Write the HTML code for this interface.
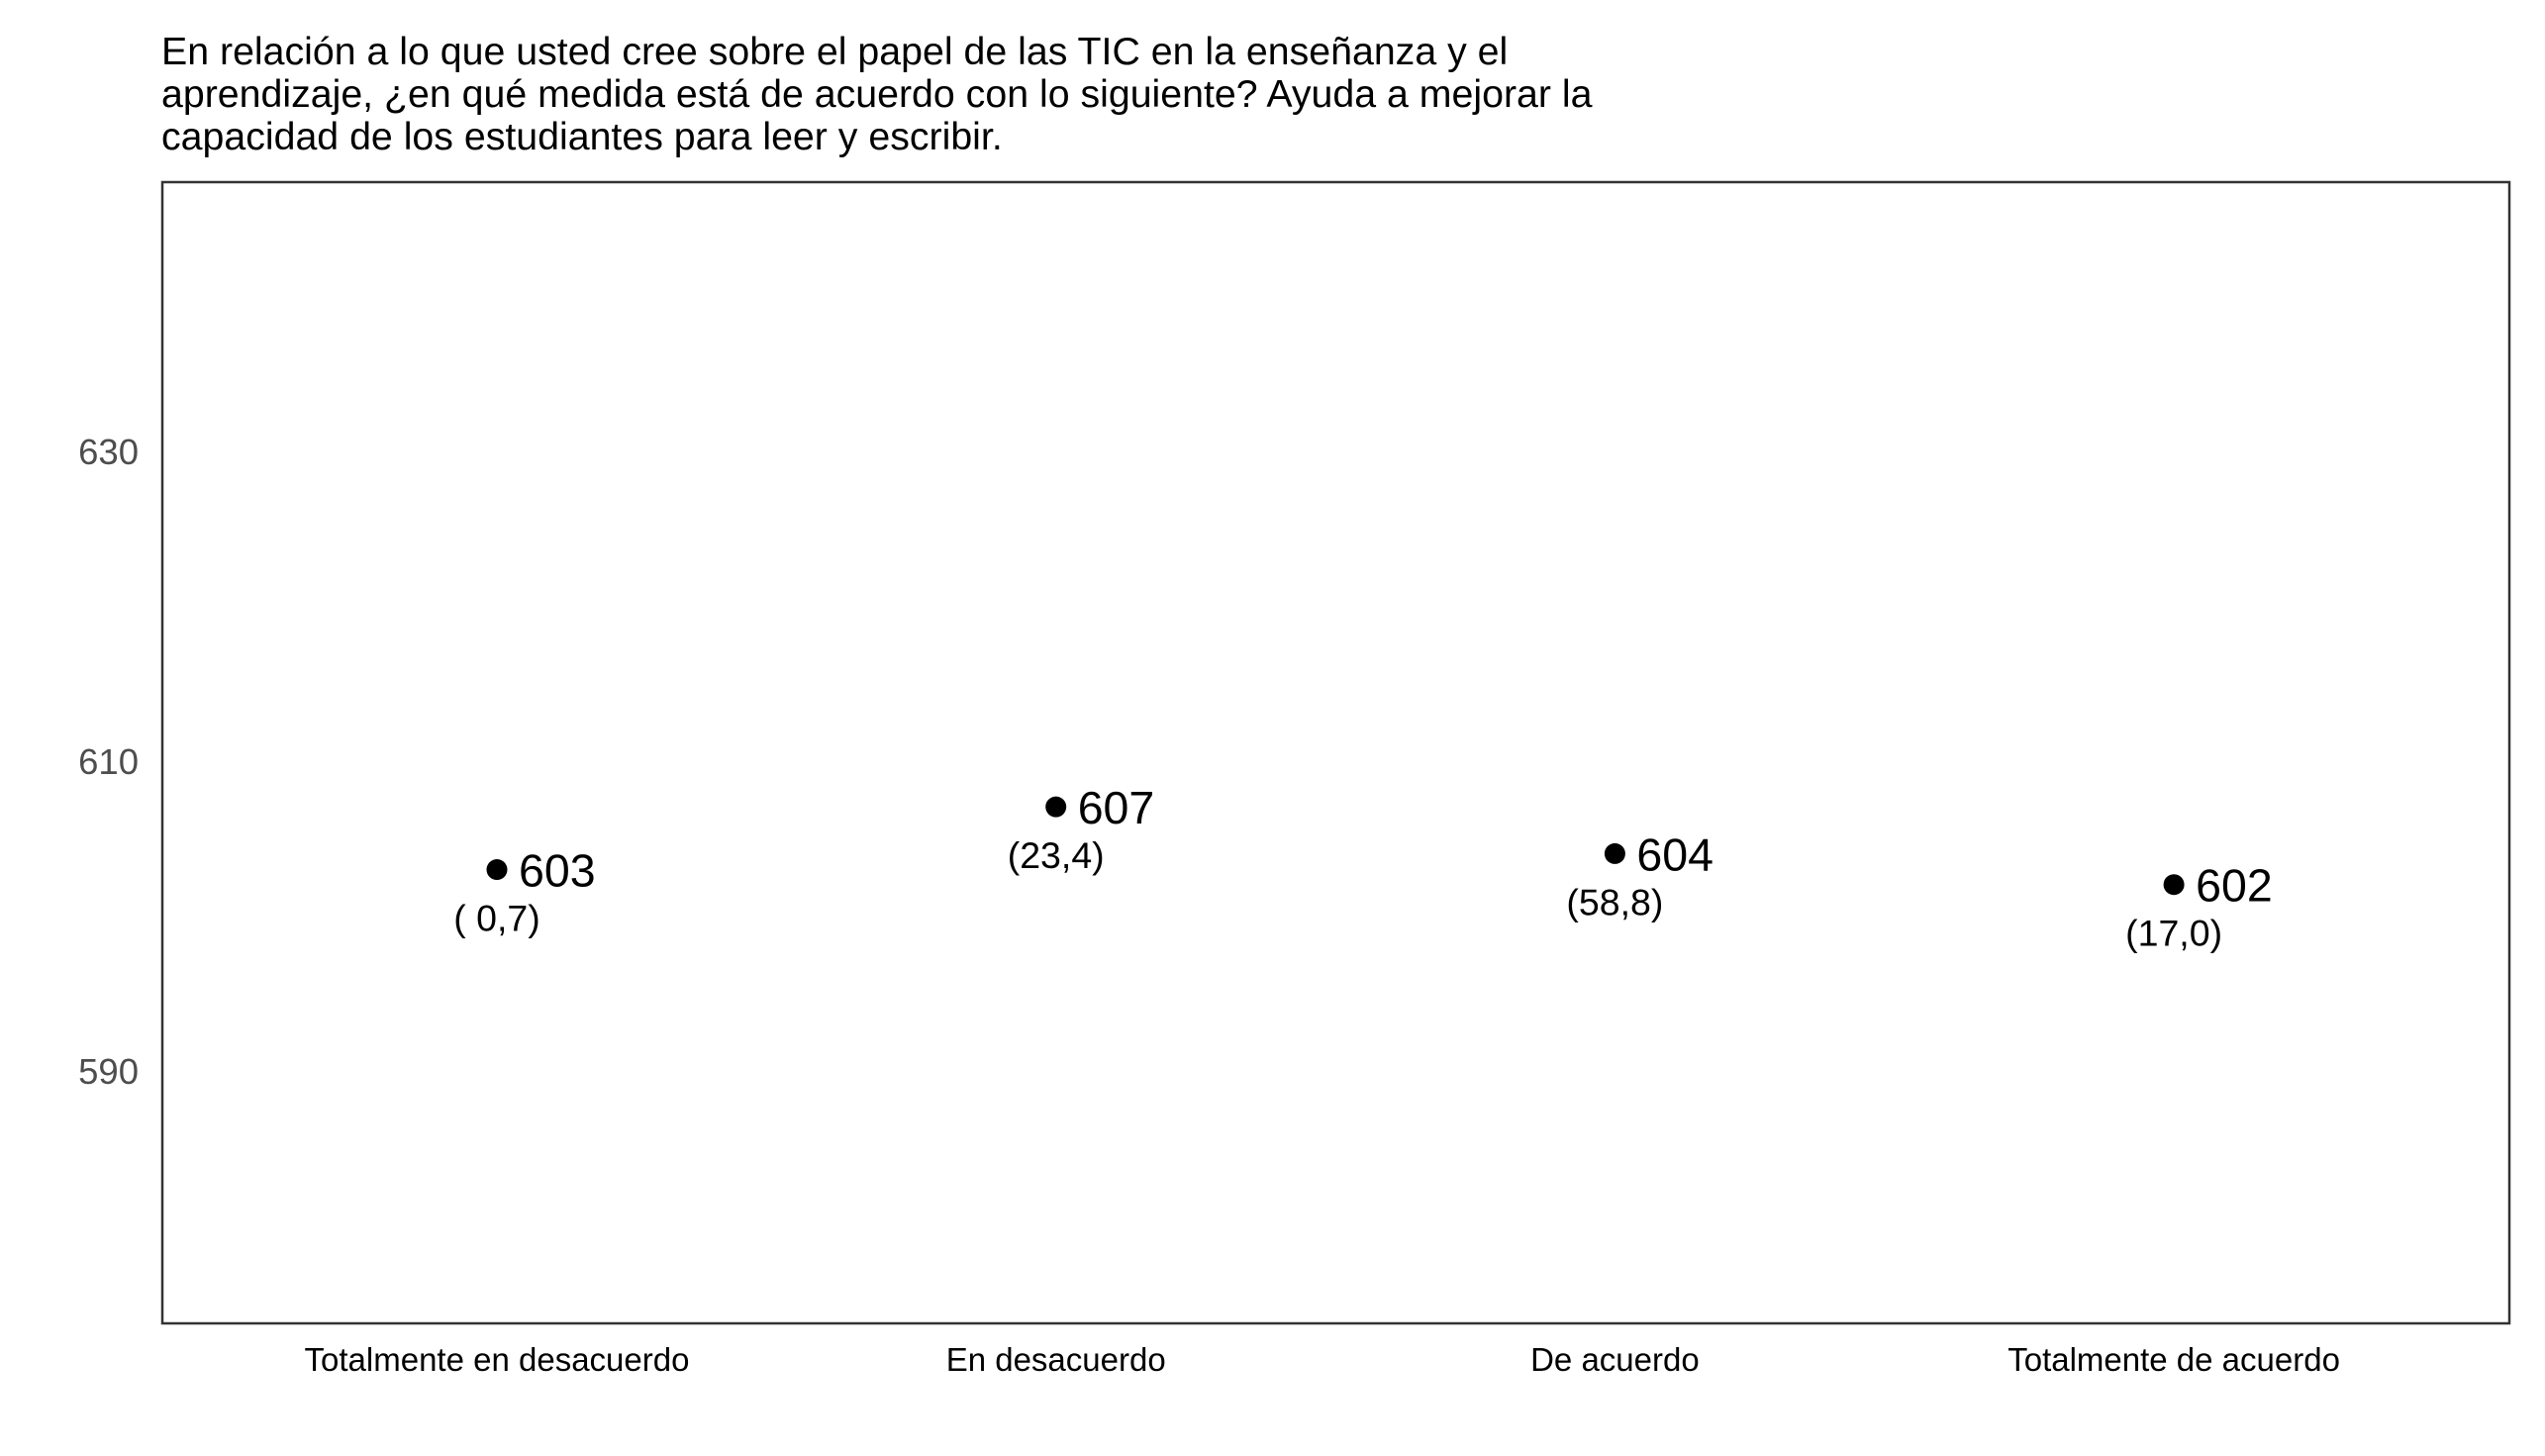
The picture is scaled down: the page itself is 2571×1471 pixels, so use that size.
<!DOCTYPE html>
<html><head><meta charset="utf-8"><style>
html,body{margin:0;padding:0;background:#fff;}
svg{display:block;font-family:"Liberation Sans",Arial,sans-serif;}
</style></head><body>
<svg id="chart" width="2571" height="1471" viewBox="0 0 2571 1471">
<g font-size="39.3" fill="#000">
<text x="163" y="65">En relación a lo que usted cree sobre el papel de las TIC en la enseñanza y el</text>
<text x="163" y="108">aprendizaje, ¿en qué medida está de acuerdo con lo siguiente? Ayuda a mejorar la</text>
<text x="163" y="151">capacidad de los estudiantes para leer y escribir.</text>
</g>
<rect x="164" y="184" width="2371" height="1153" fill="none" stroke="#333" stroke-width="2.5"/>
<g id="yaxis"></g>
<g id="xaxis"></g>
<g id="marks"></g>
</svg>
<script>
const categories = ["Totalmente en desacuerdo","En desacuerdo","De acuerdo","Totalmente de acuerdo"];
const values = [603.0, 607.05, 604.03, 602.03];
const valueLabels = ["603","607","604","602"];
const pctLabels = ["( 0,7)","(23,4)","(58,8)","(17,0)"];
const yTicks = [590, 610, 630];

const NS = "http://www.w3.org/2000/svg";
function y(v){ return 769 + (610 - v) * 15.65; }
function x(i){ return 502 + i * 564.7; }
function mk(tag, attrs, parent){
  const e = document.createElementNS(NS, tag);
  for (const k in attrs) e.setAttribute(k, attrs[k]);
  parent.appendChild(e);
  return e;
}
const ya = document.getElementById('yaxis');
yTicks.forEach(t => {
  const el = mk('text', {x:140, y:y(t)+13, 'text-anchor':'end', 'font-size':36.5, fill:'#4d4d4d'}, ya);
  
  
  el.textContent = t;
});
const xa = document.getElementById('xaxis');
categories.forEach((c, i) => {
  const el = mk('text', {x:x(i), y:1385, 'text-anchor':'middle', 'font-size':33, fill:'#000'}, xa);
  
  
  el.textContent = c;
});
const mg = document.getElementById('marks');
values.forEach((v, i) => {
  const cx = x(i), cy = y(v);
  const p = mk('circle', {cx:cx, cy:cy, r:10.5, fill:'#000'}, mg);
  
  
  const t = mk('text', {x:cx+22, y:cy+17, 'font-size':46.5, fill:'#000'}, mg);
  
  
  t.textContent = valueLabels[i];
  const q = mk('text', {x:cx, y:cy+62, 'text-anchor':'middle', 'font-size':37.5, fill:'#000'}, mg);
  
  
  q.textContent = pctLabels[i];
});
</script>
</body></html>
